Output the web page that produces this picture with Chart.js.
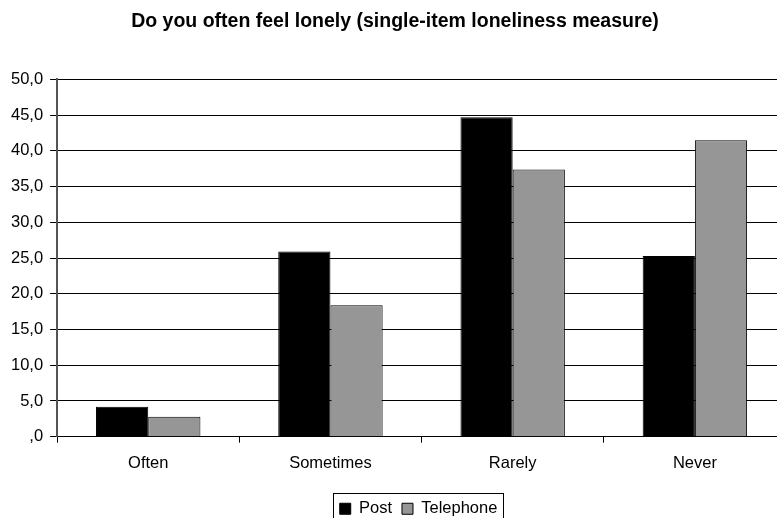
<!DOCTYPE html>
<html>
<head>
<meta charset="utf-8">
<script src="https://cdn.jsdelivr.net/npm/chart.js@4.4.1/dist/chart.umd.min.js"></script>
<style>
  html, body { margin: 0; padding: 0; background: #fff; overflow: hidden; }
  #wrap { width: 777px; height: 518px; overflow: hidden; }
</style>
</head>
<body>
<div id="wrap"><canvas id="chart" width="786" height="545"></canvas></div>
<script>
const categories = ["Often", "Sometimes", "Rarely", "Never"];
const post = [4.2, 25.9, 44.7, 25.3];
const telephone = [2.8, 18.4, 37.4, 41.5];
const seriesNames = ["Post", "Telephone"];

const ctx = document.getElementById("chart");
const FONT = "Liberation Sans, Arial";

// legend sits centred under the plot area, a bit lower, with a thin frame round it
const legendFrame = {
  id: "legendFrame",
  afterLayout(chart) {
    const lg = chart.legend;
    const shift = (chart.chartArea.left + chart.chartArea.right) / 2 - (lg.left + lg.right) / 2;
    lg.left += shift - 3;
    lg.right += shift - 3;
    lg.top += 6;
    lg.bottom += 6;
  },
  afterDraw(chart) {
    const boxes = chart.legend.legendHitBoxes;
    if (!boxes.length) return;
    const first = boxes[0];
    const last = boxes[boxes.length - 1];
    const cy = first.top + first.height / 2;
    const x1 = Math.round(first.left - 7) + 0.5;
    const x2 = Math.round(last.left + last.width + 6) + 0.5;
    const y1 = Math.round(cy - 16) + 0.5;
    const y2 = Math.round(cy + 16) + 0.5;
    const c = chart.ctx;
    c.save();
    c.strokeStyle = "#000";
    c.lineWidth = 1;
    c.strokeRect(x1, y1, x2 - x1, y2 - y1);
    c.restore();
  }
};

new Chart(ctx, {
  type: "bar",
  data: {
    labels: categories,
    datasets: [
      {
        label: seriesNames[0],
        data: post,
        backgroundColor: "#000000",
        borderColor: "#000000",
        borderWidth: 1,
      },
      {
        label: seriesNames[1],
        data: telephone,
        backgroundColor: "#969696",
        borderColor: "#000000",
        borderWidth: 1,
      },
    ],
  },
  options: {
    responsive: false,
    animation: false,
    categoryPercentage: 0.573,
    barPercentage: 1,
    layout: { padding: { left: 4, right: 0, top: 0, bottom: 24 } },
    scales: {
      x: {
        grid: {
          offset: true,
          drawOnChartArea: false,
          tickLength: 6,
          color: "#000",
        },
        border: { color: "#000", width: 1 },
        ticks: {
          color: "#000",
          font: { family: FONT, size: 16.5 },
          padding: 11,
        },
      },
      y: {
        min: 0,
        max: 50,
        ticks: {
          stepSize: 5,
          color: "#000",
          font: { family: FONT, size: 16.5 },
          padding: 7,
          callback: (v) => (v === 0 ? ",0" : v.toFixed(1).replace(".", ",")),
        },
        grid: { color: "#000", tickLength: 7 },
        border: { color: "#555", width: 2 },
      },
    },
    plugins: {
      title: {
        display: true,
        text: "Do you often feel lonely (single-item loneliness measure)",
        color: "#000",
        font: { family: FONT, size: 19.5, weight: "bold" },
        padding: { top: 10, bottom: 46 },
      },
      legend: {
        position: "bottom",
        labels: {
          color: "#000",
          boxWidth: 11,
          boxHeight: 11,
          padding: 10,
          font: { family: FONT, size: 16.5 },
        },
      },
      tooltip: { enabled: false },
    },
  },
  plugins: [legendFrame],
});
</script>
</body>
</html>
